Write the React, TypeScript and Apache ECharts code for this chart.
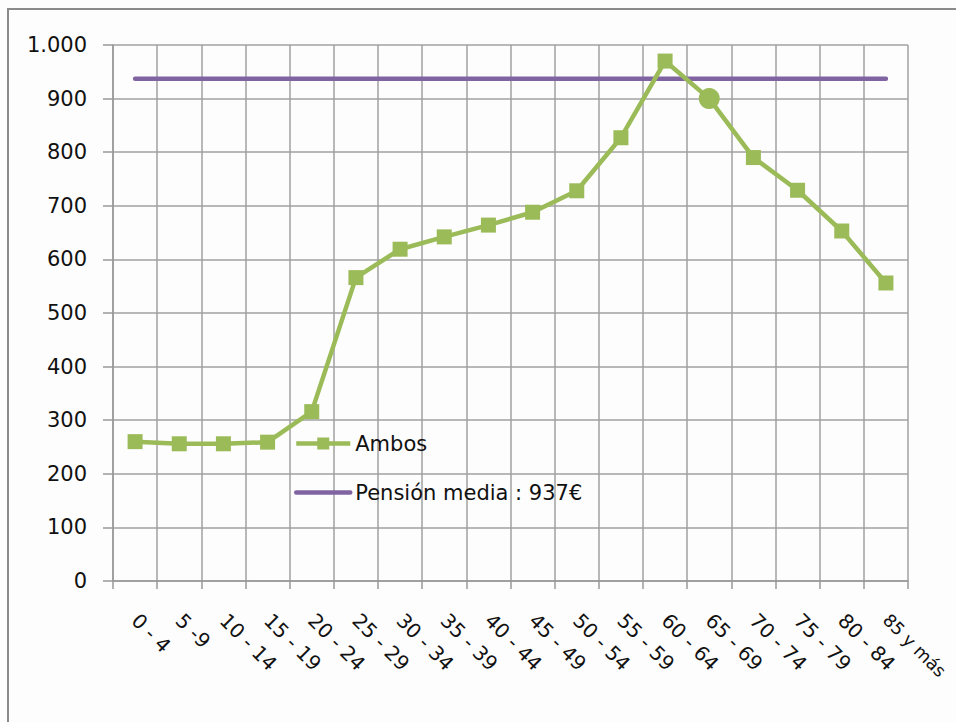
import React, { useEffect, useRef } from "react";
import * as echarts from "echarts";

const categories = [
  "0 - 4", "5 -9", "10 - 14", "15 - 19", "20 - 24", "25 - 29", "30 - 34", "35 - 39", "40 - 44",
  "45 - 49", "50 - 54", "55 - 59", "60 - 64", "65 - 69", "70 - 74", "75 - 79", "80 - 84", "85 y más",
];
const ambos = [260, 256, 256, 259, 316, 566, 619, 642, 664, 688, 728, 827, 970, 900, 790, 729, 653, 556];
const pensionMedia = 937;
const highlightIndex = 13;

const FONT = "DejaVu Sans";

export default function App() {
  const ref = useRef<HTMLDivElement>(null);
  useEffect(() => {
    document.body.style.margin = "0";
    const chart = echarts.init(ref.current!, null, { renderer: "svg" });
    const green = "#9BBB59";
    const purple = "#8064A2";
    const lastIdx = categories.length - 1;
    chart.setOption({
      animation: false,
      backgroundColor: "#fdfdfd",
      textStyle: { fontFamily: FONT },
      graphic: [
        {
          type: "rect",
          shape: { x: 8, y: 9, width: 1000, height: 800 },
          style: { fill: "none", stroke: "#8a8a8a", lineWidth: 2 },
          silent: true,
        },
      ],
      grid: { left: 113, top: 45, right: 48, bottom: 141, outerBoundsMode: "none", containLabel: false },
      legend: {
        left: 289,
        top: 428,
        orient: "vertical",
        itemWidth: 54,
        itemHeight: 15,
        itemGap: 28,
        lineStyle: { width: 4.5 },
        textStyle: { fontFamily: FONT, fontSize: 21, color: "#111" },
        data: [
          { name: "Ambos" },
          { name: "Pensión media : 937€", itemStyle: { opacity: 0 } },
        ],
      },
      xAxis: {
        type: "category",
        data: categories,
        boundaryGap: true,
        axisLine: { lineStyle: { color: "#999", width: 1.5 } },
        axisTick: { show: true, length: 8, lineStyle: { color: "#999", width: 1.5 } },
        splitLine: { show: true, lineStyle: { color: "#a0a0a0", width: 1.5 } },
        axisLabel: {
          rotate: -45,
          margin: 36,
          interval: 0,
          fontFamily: FONT,
          fontSize: 20,
          color: "#111",
          formatter: (v: string, i: number) => (i === lastIdx ? `{s|${v}}` : v),
          rich: { s: { fontFamily: FONT, fontSize: 17.5, color: "#111" } },
        },
      },
      yAxis: {
        type: "value",
        min: 0,
        max: 1000,
        interval: 100,
        axisLine: { show: true, lineStyle: { color: "#999", width: 1.5 } },
        axisTick: { show: true, inside: false, length: 10, lineStyle: { color: "#999", width: 1.5 } },
        splitLine: { show: true, lineStyle: { color: "#a0a0a0", width: 1.5 } },
        axisLabel: {
          margin: 26,
          fontFamily: FONT,
          fontSize: 21,
          color: "#111",
          formatter: (v: number) => String(v).replace(/\B(?=(\d{3})+(?!\d))/g, "."),
        },
      },
      series: [
        {
          name: "Ambos",
          type: "line",
          data: ambos.map((v, i) =>
            i === highlightIndex ? { value: v, symbol: "circle", symbolSize: 21 } : v
          ),
          symbol: "rect",
          symbolSize: 15,
          itemStyle: { color: green },
          lineStyle: { color: green, width: 4.5 },
          z: 3,
        },
        {
          name: "Pensión media : 937€",
          type: "line",
          data: categories.map(() => pensionMedia),
          symbol: "none",
          itemStyle: { color: purple },
          lineStyle: { color: purple, width: 4.5, cap: "round" },
          z: 2,
        },
      ],
    });
    return () => chart.dispose();
  }, []);
  return <div ref={ref} style={{ position: "fixed", left: 0, top: 0, width: 956, height: 722 }} />;
}
